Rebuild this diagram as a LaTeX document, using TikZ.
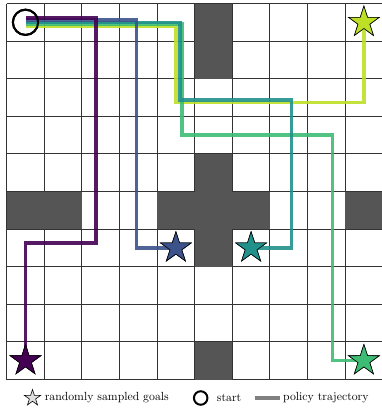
\documentclass[tikz,border=0pt]{standalone}
\usepackage{xcolor}
\usepackage{tikz}
\usetikzlibrary{shapes.geometric, positioning, calc}
\definecolor{vpurple}{HTML}{440154}
\definecolor{vblue}{HTML}{3B528B}
\definecolor{vteal}{HTML}{21918C}
\definecolor{vgreen}{HTML}{3DBC74}
\definecolor{vlime}{HTML}{BDDF26}
\definecolor{wallgray}{HTML}{555555}
\definecolor{gridgray}{HTML}{333333}
\tikzset{
  gridline/.style={draw=gridgray, line width=0.7pt},
  wall/.style={fill=wallgray},
  goal/.style={star, star points=5, star point ratio=2.618,
    draw=black, line width=0.5pt, minimum size=27.5pt, inner sep=0pt},
  startmark/.style={circle, draw=black, line width=1.7pt,
    minimum size=21.5pt, inner sep=0pt},
  traj/.style={draw=#1, line width=3pt, opacity=0.9},
  legtext/.style={font=\normalsize, inner sep=2pt}
}

\begin{document}
\begin{tikzpicture}[x=0.85pt, y=-0.85pt]
  \useasboundingbox (0,0) rectangle (382,408);

  % Grid, 10 x 10 cells
  \foreach \k in {0,...,10} {
    \draw[gridline] ({6.7+37.6*\k},3.5) -- ++(0,376);
    \draw[gridline] (6.7,{3.5+37.6*\k}) -- ++(376,0);
  }

  % Walls
  \foreach \c/\r in {5/0,5/1,0/5,1/5,4/5,5/4,5/5,6/5,5/6,9/5,5/9}
    \fill[wall] ({6.7+37.6*\c},{3.5+37.6*\r}) rectangle ++(37.6,37.6);

  % Start and goals
  \node[startmark] (start) at (25.5,22.3) {};
  \node[goal, fill=vlime]   (goalY) at (363.9,22.3) {};
  \node[goal, fill=vblue]   (goalB) at (175.9,247.9) {};
  \node[goal, fill=vteal]   (goalT) at (251.1,247.9) {};
  \node[goal, fill=vpurple] (goalP) at (25.5,360.7) {};
  \node[goal, fill=vgreen]  (goalG) at (363.9,360.7) {};

  % Policy trajectories
  \coordinate (sP) at (25.7,18);
  \coordinate (sB) at (25.7,20);
  \coordinate (sT) at (25.7,22.5);
  \coordinate (sG) at (25.7,24);
  \coordinate (sY) at (25.7,26.5);
  \draw[traj=vlime]   (sY) -| (176,102.5) -| (goalY.center);
  \draw[traj=vgreen]  (sG) -| (182,135) -| (332.3,360.7) -- (goalG.center);
  \draw[traj=vteal]   (sT) -| (180,100) -| (291.5,247.9) -- (goalT.center);
  \draw[traj=vblue]   (sB) -| (136.5,247.9) -- (goalB.center);
  \draw[traj=vpurple] (sP) -| (96,243) -| (goalP.center);

  % redraw markers on top of the lines
  \node[startmark] at (start) {};
  \foreach \g/\col in {goalY/vlime, goalB/vblue, goalT/vteal, goalP/vpurple, goalG/vgreen}
    \node[goal, fill=\col] at (\g) {};

  % Legend
  \node[goal, fill=gray!25, minimum size=14.5pt] (legstar) at (32.5,398) {};
  \node[legtext, right=4pt of legstar] (legstartxt) {randomly sampled goals};
  \node[startmark, minimum size=11.5pt] (legcirc) at (200.7,398) {};
  \node[legtext, right=5pt of legcirc] (legcirctxt) {start};
  \coordinate (leglineA) at (255,398);
  \coordinate (leglineB) at (280,398);
  \draw[draw=gray, line width=2.7pt] (leglineA) -- (leglineB);
  \node[legtext, right=0.5pt of leglineB] (leglinetxt) {policy trajectory};
\end{tikzpicture}
\end{document}
